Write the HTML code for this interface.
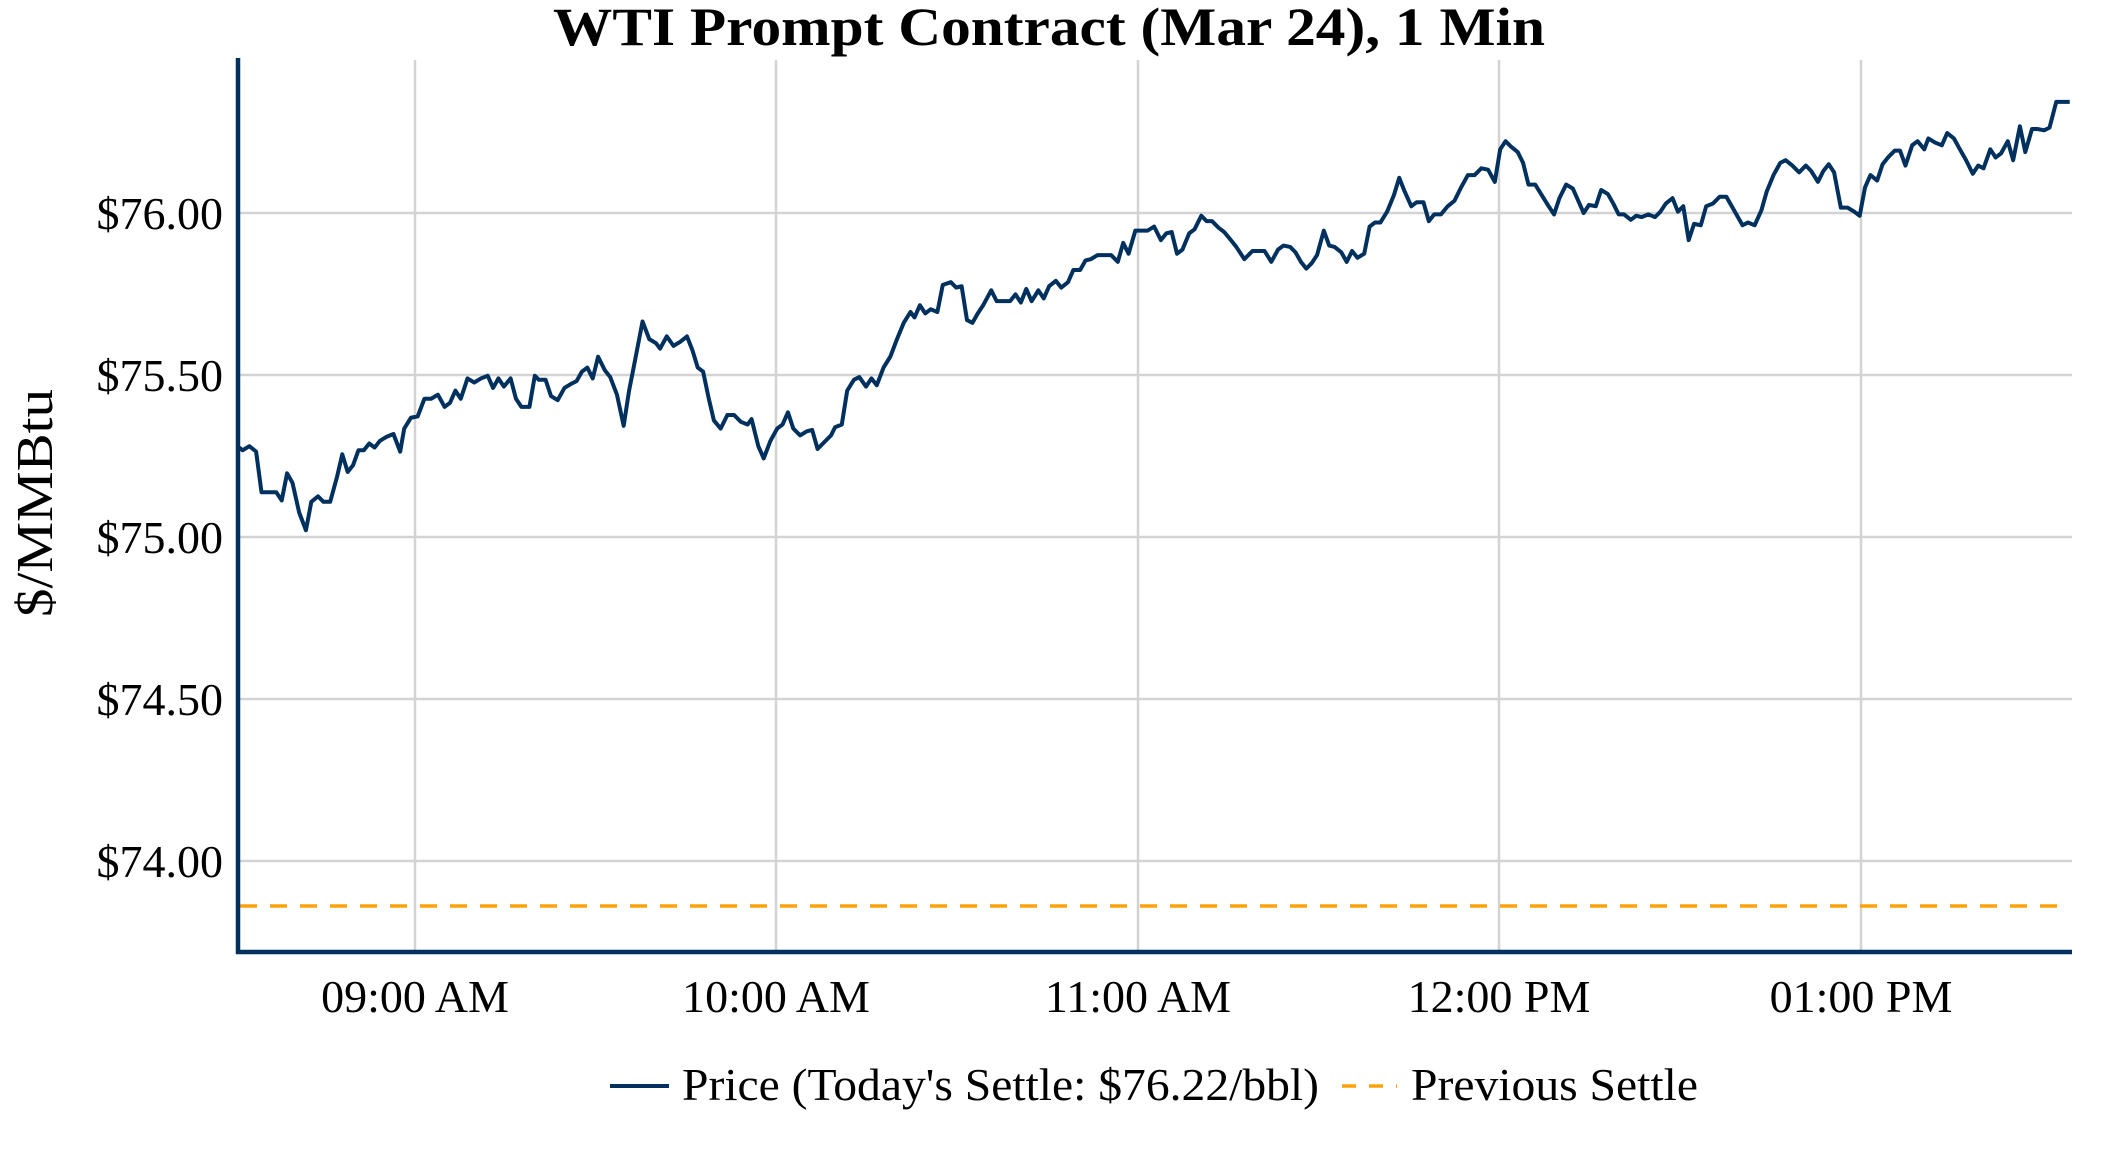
<!DOCTYPE html>
<html><head><meta charset="utf-8"><style>html,body{margin:0;padding:0;background:#fff}svg{display:block}</style></head>
<body>
<svg width="2112" height="1152" viewBox="0 0 2112 1152" xmlns="http://www.w3.org/2000/svg" font-family="Liberation Serif, serif">
<rect width="2112" height="1152" fill="#fff"/>
<g stroke="#d3d3d3" stroke-width="2.5">
<line x1="415" y1="60" x2="415" y2="952"/><line x1="776" y1="60" x2="776" y2="952"/><line x1="1138" y1="60" x2="1138" y2="952"/><line x1="1499" y1="60" x2="1499" y2="952"/><line x1="1861" y1="60" x2="1861" y2="952"/>
<line x1="238" y1="213" x2="2072" y2="213"/><line x1="238" y1="375" x2="2072" y2="375"/><line x1="238" y1="537" x2="2072" y2="537"/><line x1="238" y1="699" x2="2072" y2="699"/><line x1="238" y1="861" x2="2072" y2="861"/>
</g>
<line x1="240" y1="906" x2="2058" y2="906" stroke="#ffa20d" stroke-width="3.5" stroke-dasharray="17,13"/>
<g transform="matrix(1.3464,0,0,1.3556,0.3,-2.5)">
<polyline fill="none" stroke="#00305e" stroke-width="4" vector-effect="non-scaling-stroke" stroke-linejoin="round" points="176,331 180,334 185,331 190,335 194,365 200,365 205,365 209,371 213,351 217,358 222,380 227,393 231,372 236,368 240,372 245,372 250,354 254,337 258,350 262,345 266,334 270,334 274,329 278,332 282,327 287,324 292,322 297,335 300,318 305,310 310,309 315,296 320,296 325,293 330,302 334,299 338,290 342,296 347,281 352,284 357,281 362,279 366,288 370,281 374,287 379,281 383,296 387,302 393,302 397,279 400,282 405,282 409,294 414,297 419,288 424,285 428,283 432,276 436,273 440,281 444,265 449,275 453,280 458,293 463,316 467,290 470,275 477,239 482,252 487,255 490,259 495,250 500,257 505,254 510,250 514,260 518,273 522,276 526,295 530,312 535,318 540,308 545,308 550,313 555,315 558,311 563,331 567,340 572,327 577,318 581,315 585,306 589,318 594,323 599,320 603,319 607,333 612,328 617,323 620,317 625,315 629,290 634,282 638,280 643,287 647,281 651,286 656,273 661,265 666,252 671,240 676,232 679,236 683,227 687,233 691,230 696,232 700,212 706,210 710,214 714,213 718,238 722,240 726,233 730,227 736,216 740,224 745,224 750,224 754,219 758,225 762,215 766,224 771,216 775,222 779,213 784,209 788,214 793,210 797,201 802,201 806,194 810,193 815,190 820,190 825,190 830,195 834,181 838,189 843,172 847,172 852,172 857,169 862,179 866,174 870,173 874,189 878,186 883,174 887,171 892,161 896,165 900,165 905,170 909,173 914,179 918,184 924,193 930,187 935,187 939,187 944,195 949,186 953,183 958,184 962,188 966,195 970,200 974,196 978,190 983,172 987,183 991,184 996,188 1000,195 1004,187 1008,192 1013,189 1017,169 1021,166 1025,166 1030,158 1035,146 1039,133 1043,143 1048,154 1052,151 1057,151 1061,165 1065,160 1070,160 1075,154 1080,150 1085,140 1090,131 1095,131 1100,126 1105,127 1110,136 1114,112 1118,106 1122,110 1127,114 1131,122 1135,138 1140,138 1145,146 1150,154 1154,160 1158,148 1163,138 1168,141 1172,150 1176,159 1180,153 1185,154 1189,142 1194,145 1198,152 1202,160 1206,160 1211,164 1215,161 1219,162 1224,160 1229,162 1233,158 1237,152 1242,148 1246,158 1250,154 1254,179 1258,167 1263,168 1267,154 1272,152 1277,147 1282,147 1286,154 1290,161 1294,168 1298,166 1303,168 1308,157 1312,143 1317,131 1322,122 1326,120 1331,124 1336,129 1341,124 1345,128 1350,136 1354,128 1358,123 1362,129 1367,155 1372,155 1377,158 1381,161 1385,140 1389,131 1394,135 1398,123 1402,118 1407,113 1411,113 1415,124 1420,109 1424,106 1429,112 1432,104 1437,107 1442,109 1446,100 1451,104 1456,113 1460,120 1465,130 1469,124 1473,126 1478,112 1482,118 1486,115 1491,106 1495,120 1500,95 1504,114 1509,97 1513,97 1518,98 1522,96 1527,77 1532,77 1537,77"/>
</g>
<g stroke="#00305e" stroke-width="4.5"><line x1="238" y1="58" x2="238" y2="954"/><line x1="236" y1="952" x2="2072" y2="952"/></g>
<text x="1049" y="45" text-anchor="middle" font-size="54" font-weight="bold" textLength="992" lengthAdjust="spacingAndGlyphs">WTI Prompt Contract (Mar 24), 1 Min</text>
<g font-size="46" text-anchor="end">
<text x="223" y="229">$76.00</text><text x="223" y="391">$75.50</text><text x="223" y="553">$75.00</text><text x="223" y="715">$74.50</text><text x="223" y="877">$74.00</text>
</g>
<text transform="translate(52,503) rotate(-90)" text-anchor="middle" font-size="52" textLength="228" lengthAdjust="spacingAndGlyphs">$/MMBtu</text>
<g font-size="46" text-anchor="middle">
<text x="415" y="1012">09:00 AM</text><text x="776" y="1012">10:00 AM</text><text x="1138" y="1012">11:00 AM</text><text x="1499" y="1012">12:00 PM</text><text x="1861" y="1012">01:00 PM</text>
</g>
<line x1="610" y1="1086" x2="669" y2="1086" stroke="#00305e" stroke-width="4"/>
<line x1="1342" y1="1086" x2="1397" y2="1086" stroke="#ffa20d" stroke-width="3.5" stroke-dasharray="14,13"/>
<g font-size="46">
<text x="682" y="1100" textLength="637" lengthAdjust="spacingAndGlyphs">Price (Today's Settle: $76.22/bbl)</text>
<text x="1411" y="1100" textLength="287" lengthAdjust="spacingAndGlyphs">Previous Settle</text>
</g>
</svg>
</body></html>
